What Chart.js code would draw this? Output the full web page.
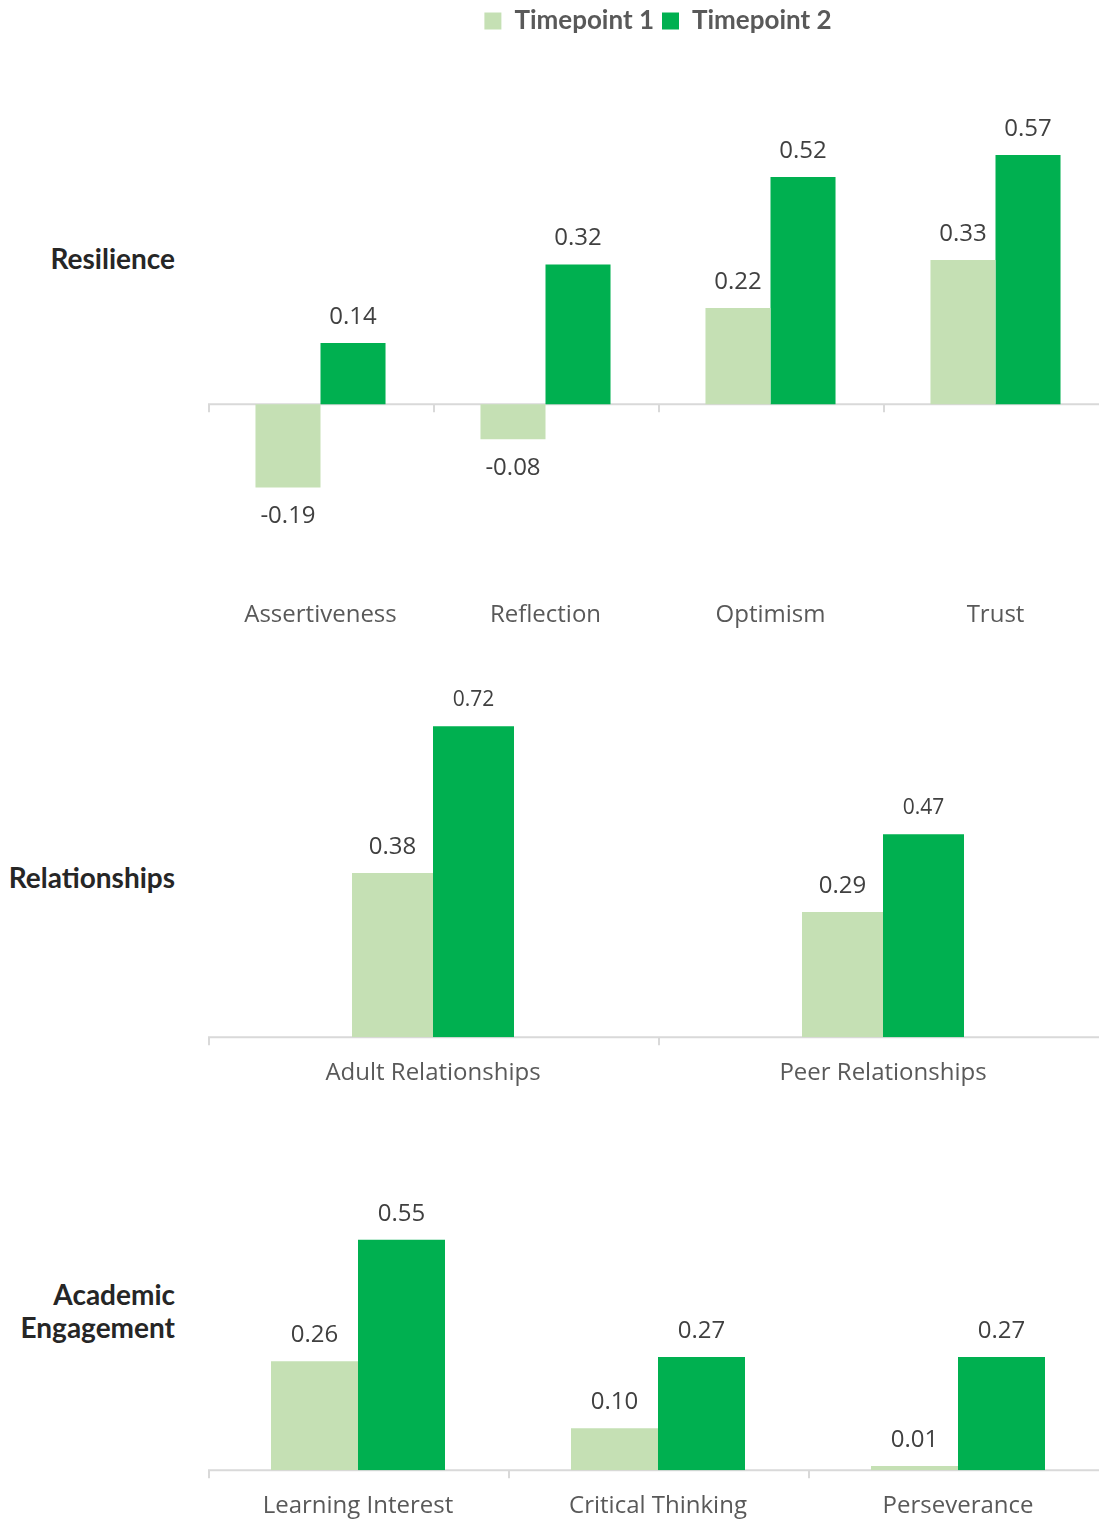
<!DOCTYPE html>
<html>
<head>
<meta charset="utf-8">
<script src="https://cdn.jsdelivr.net/npm/chart.js@4"></script>
<style>
  html, body { margin: 0; padding: 0; background: #fff; overflow: hidden; }
  body { width: 1099px; height: 1522px; position: relative; }
  .box { position: absolute; left: 208px; width: 900px; }
  .box canvas { display: block; }
  .section {
    position: absolute; right: calc(1099px - 175px); text-align: right;
    font-family: Lato, sans-serif; font-weight: bold; font-size: 28px;
    color: #262626; line-height: 33px;
  }
</style>
</head>
<body>
<div class="section" style="top:242px;">Resilience</div>
<div class="section" style="top:861px;">Relationships</div>
<div class="section" style="top:1278px;">Academic<br>Engagement</div>

<div class="box" style="top:0px;height:652px;"><canvas id="resilienceChart"></canvas></div>
<div class="box" style="top:670px;height:440px;"><canvas id="relationshipsChart"></canvas></div>
<div class="box" style="top:1177px;height:366px;"><canvas id="academicChart"></canvas></div>

<script>
// Series names and colours
const seriesNames = ['Timepoint 1', 'Timepoint 2'];
const seriesColors = ['#C5E0B4', '#00B050'];

// Resilience
const resilienceCategories = ['Assertiveness', 'Reflection', 'Optimism', 'Trust'];
const resilienceT1 = [-0.19, -0.08, 0.22, 0.33];
const resilienceT2 = [0.14, 0.32, 0.52, 0.57];

// Relationships
const relationshipsCategories = ['Adult Relationships', 'Peer Relationships'];
const relationshipsT1 = [0.38, 0.29];
const relationshipsT2 = [0.72, 0.47];

// Academic Engagement
const academicCategories = ['Learning Interest', 'Critical Thinking', 'Perseverance'];
const academicT1 = [0.26, 0.10, 0.01];
const academicT2 = [0.55, 0.27, 0.27];

const axisColor = '#D9D9D9';
const tickColor = '#595959';
const labelColor = '#404040';

// Draws the zero line and small tick marks at category boundaries
const baselinePlugin = {
    id: 'baseline',
    beforeDatasetsDraw(chart) {
        const {ctx, chartArea, scales} = chart;
        const y0 = scales.y.getPixelForValue(0);
        const n = chart.data.labels.length;
        const step = (chartArea.right - chartArea.left) / n;
        ctx.save();
        ctx.strokeStyle = axisColor;
        ctx.lineWidth = 2;
        ctx.beginPath();
        ctx.moveTo(chartArea.left, y0);
        ctx.lineTo(chartArea.right, y0);
        for (let i = 0; i <= n; i++) {
            const x = Math.round(chartArea.left + i * step) + 1;
            ctx.moveTo(x, y0);
            ctx.lineTo(x, y0 + 8);
        }
        ctx.stroke();
        ctx.restore();
    }
};

// Value labels above positive bars and below negative bars
const valueLabelPlugin = {
    id: 'valueLabels',
    afterDatasetsDraw(chart, args, opts) {
        const {ctx} = chart;
        ctx.save();
        ctx.fillStyle = labelColor;
        ctx.textAlign = 'center';
        ctx.textBaseline = 'middle';
        chart.data.datasets.forEach((ds, di) => {
            const meta = chart.getDatasetMeta(di);
            const size = (opts.sizes && opts.sizes[di]) || 24;
            ctx.font = size + 'px "Open Sans", sans-serif';
            meta.data.forEach((bar, i) => {
                const v = ds.data[i];
                const y = v >= 0 ? bar.y - 26 : bar.y + 29;
                ctx.fillText(v.toFixed(2), bar.x, y);
            });
        });
        ctx.restore();
    }
};

function makeChart(id, labels, t1, t2, yMin, yMax, catPct, showLegend, labelSizes) {
    return new Chart(document.getElementById(id), {
        type: 'bar',
        data: {
            labels: labels,
            datasets: [
                { label: seriesNames[0], data: t1, backgroundColor: seriesColors[0] },
                { label: seriesNames[1], data: t2, backgroundColor: seriesColors[1] }
            ]
        },
        options: {
            responsive: true,
            maintainAspectRatio: false,
            animation: false,
            datasets: {
                bar: { categoryPercentage: catPct, barPercentage: 1.0 }
            },
            layout: { padding: 0 },
            plugins: {
                legend: {
                    display: showLegend,
                    position: 'top',
                    labels: {
                        color: tickColor,
                        boxWidth: 17,
                        boxHeight: 17,
                        padding: 8,
                        font: { family: 'Lato', weight: 'bold', size: 26 }
                    }
                },
                tooltip: { enabled: false },
                valueLabels: { sizes: labelSizes }
            },
            scales: {
                x: {
                    grid: { display: false, drawTicks: false },
                    border: { display: false },
                    ticks: {
                        color: tickColor,
                        padding: 22,
                        maxRotation: 0,
                        autoSkip: false,
                        font: { family: 'Open Sans', size: 24 }
                    }
                },
                y: {
                    display: false,
                    min: yMin,
                    max: yMax
                }
            }
        },
        plugins: [baselinePlugin, valueLabelPlugin]
    });
}

makeChart('resilienceChart', resilienceCategories, resilienceT1, resilienceT2,
    -0.4, 0.824, 0.578, true, [24, 24]);
makeChart('relationshipsChart', relationshipsCategories, relationshipsT1, relationshipsT2,
    0, 0.85, 0.36, false, [24, 21]);
makeChart('academicChart', academicCategories, academicT1, academicT2,
    0, 0.7, 0.58, false, [24, 24]);
</script>
</body>
</html>
